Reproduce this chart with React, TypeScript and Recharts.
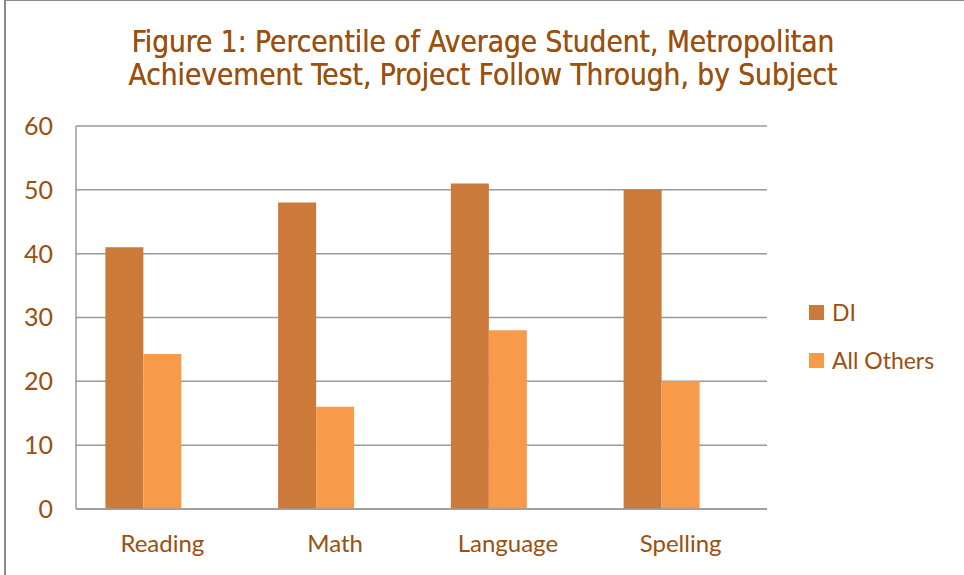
import { BarChart, Bar, XAxis, YAxis, CartesianGrid } from "recharts";

const subjects = ["Reading", "Math", "Language", "Spelling"];
const diScores = [41, 48, 51, 50];
const otherScores = [24.3, 16, 28, 20];
const yTicks = [0, 10, 20, 30, 40, 50, 60];

const data = subjects.map((s, i) => ({
  subject: s,
  di: diScores[i],
  others: otherScores[i],
  blank: null,
}));

const TEXT = "#9c4f0e";
const DI_COLOR = "#cc7a3a";
const OTHERS_COLOR = "#f79b4b";
const FONT = "Lato, 'Open Sans', sans-serif";

const legendItems = [
  { label: "DI", color: DI_COLOR },
  { label: "All Others", color: OTHERS_COLOR },
];

export default function App() {
  return (
    <div style={{ position: "absolute", left: 0, top: 0, width: 964, height: 575, background: "#fff" }}>
      <div style={{ position: "absolute", left: 4, top: 0, width: 960, height: 575, borderLeft: "2px solid #888", borderTop: "1px solid #888" }} />
      <div
        style={{
          position: "absolute",
          left: 0,
          top: 26,
          width: 966,
          textAlign: "center",
          color: TEXT,
          fontFamily: "'DejaVu Sans Condensed', sans-serif",
          fontSize: 29.5,
          lineHeight: "33px",
          textShadow: "0 0 0.4px #9c4f0e",
        }}
      >
        Figure 1: Percentile of Average Student, Metropolitan
        <br />
        Achievement Test, Project Follow Through, by Subject
      </div>
      <div style={{ position: "absolute", left: 0, top: 0 }}>
        <BarChart
          width={964}
          height={575}
          data={data}
          margin={{ top: 126, right: 197, bottom: 36, left: 0 }}
          barGap={0}
          barCategoryGap="17%"
        >
          <CartesianGrid vertical={false} stroke="#9a9a9a" strokeWidth={1.5} />
          <XAxis
            dataKey="subject"
            tickLine={false}
            axisLine={{ stroke: "#9a9a9a", strokeWidth: 1.5 }}
            tick={{ fill: TEXT, fontSize: 24, fontFamily: FONT }}
            tickMargin={20}
          />
          <YAxis
            width={76}
            domain={[0, 60]}
            ticks={yTicks}
            tickLine={false}
            axisLine={{ stroke: "#9a9a9a", strokeWidth: 1.5 }}
            tick={{ fill: TEXT, fontSize: 25, fontFamily: FONT }}
            tickMargin={17}
          />
          <Bar dataKey="di" name="DI" fill={DI_COLOR} isAnimationActive={false} />
          <Bar dataKey="others" name="All Others" fill={OTHERS_COLOR} isAnimationActive={false} />
          <Bar dataKey="blank" legendType="none" fill="none" isAnimationActive={false} />
        </BarChart>
      </div>
      <div style={{ position: "absolute", left: 809, top: 288, fontFamily: FONT }}>
        {legendItems.map((it) => (
          <div key={it.label} style={{ display: "flex", alignItems: "center", height: 48 }}>
            <span style={{ width: 15, height: 15, background: it.color, marginRight: 8 }} />
            <span style={{ color: TEXT, fontSize: 23 }}>{it.label}</span>
          </div>
        ))}
      </div>
    </div>
  );
}
